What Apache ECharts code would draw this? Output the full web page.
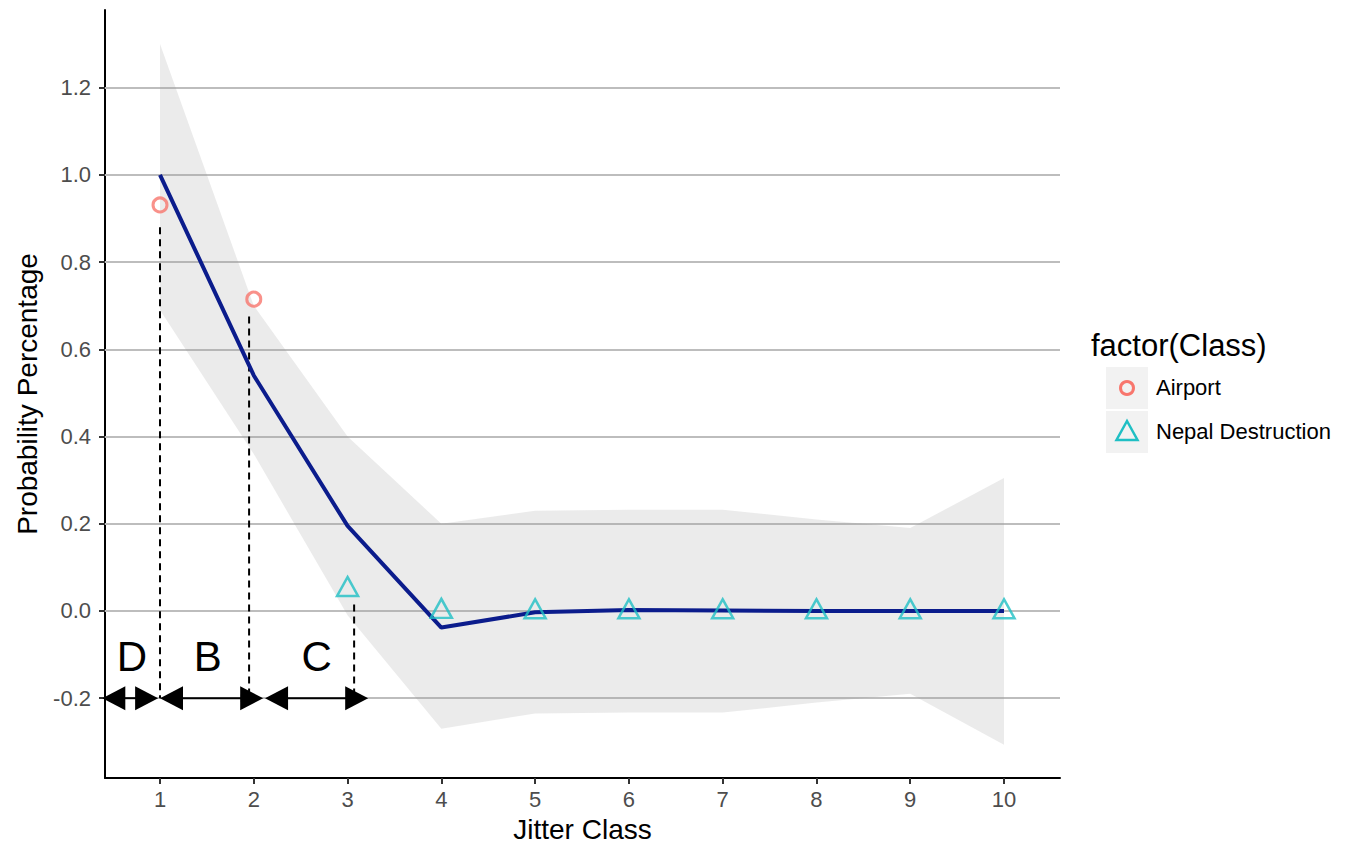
<!DOCTYPE html>
<html><head><meta charset="utf-8">
<script src="https://cdn.jsdelivr.net/npm/echarts@6/dist/echarts.min.js"></script>
<style>html,body{margin:0;padding:0;background:#fff}#c{width:1353px;height:851px}</style>
</head><body><div id="c"></div>
<script>
// ---- data ----
const classes = [1, 2, 3, 4, 5, 6, 7, 8, 9, 10];
const fitValues = [1.0, 0.54, 0.195, -0.038, -0.003, 0.002, 0.001, 0.0, 0.0, 0.0];
const bandUpper = [1.30, 0.70, 0.40, 0.20, 0.23, 0.232, 0.232, 0.21, 0.19, 0.305];
const bandLower = [0.69, 0.36, -0.01, -0.27, -0.235, -0.233, -0.233, -0.21, -0.19, -0.307];
const airportX = [1, 2];
const airportY = [0.931, 0.715];
const nepalX = [3, 4, 5, 6, 7, 8, 9, 10];
const nepalY = [0.056, 0.006, 0.005, 0.005, 0.005, 0.005, 0.005, 0.005];
const yTicks = [-0.2, 0, 0.2, 0.4, 0.6, 0.8, 1.0, 1.2];
const xTicks = [1, 2, 3, 4, 5, 6, 7, 8, 9, 10];
const guideX = [1, 1.95, 3.07];
const guideTop = [0.88, 0.675, 0.015];
const guideBottom = [-0.2, -0.2, -0.2];
const segLabels = ['D', 'B', 'C'];
const segStart = [0.385, 1.0, 2.12];
const segEnd = [0.98, 2.10, 3.22];
const segY = [-0.2, -0.2, -0.2];
const segLabelX = [0.70, 1.51, 2.67];
const segLabelY = [-0.105, -0.105, -0.105];
const legendTitle = 'factor(Class)';
const seriesNames = ['Airport', 'Nepal Destruction'];
const xName = 'Jitter Class';
const yName = 'Probability Percentage';

const AIR = '#F8766D', NEP = '#1FBFC4', FIT = '#0B1C8C';

const chart = echarts.init(document.getElementById('c'), null, {renderer: 'svg'});
const fmt = v => Number(v).toFixed(1);

chart.setOption({
  animation: false,
  backgroundColor: '#ffffff',
  grid: {left: 105, right: 293, top: 10, bottom: 73, containLabel: false},
  xAxis: {
    type: 'value', min: 0.4135, max: 10.597,
    name: xName, nameLocation: 'middle', nameGap: 37,
    nameTextStyle: {fontSize: 28, color: '#000', fontFamily: 'Liberation Sans'},
    axisLine: {show: true, onZero: false, lineStyle: {color: '#000', width: 2}},
    axisTick: {show: true, length: 6, lineStyle: {color: '#333', width: 2}, customValues: xTicks},
    axisLabel: {show: true, customValues: xTicks, fontSize: 22, color: '#4d4d4d', margin: 10, fontFamily: 'Liberation Sans'},
    splitLine: {show: false}
  },
  yAxis: {
    type: 'value', min: -0.383, max: 1.378,
    name: yName, nameLocation: 'middle', nameGap: 64, nameRotate: 90,
    nameTextStyle: {fontSize: 28, color: '#000', fontFamily: 'Liberation Sans'},
    axisLine: {show: true, onZero: false, lineStyle: {color: '#000', width: 2}},
    axisTick: {show: true, length: 6, lineStyle: {color: '#333', width: 2}, customValues: yTicks},
    axisLabel: {show: true, customValues: yTicks, formatter: fmt, fontSize: 22, color: '#4d4d4d', margin: 14, fontFamily: 'Liberation Sans'},
    splitLine: {show: false}
  },
  graphic: [
    {type: 'text', left: 1091, top: 330, style: {text: legendTitle, fontSize: 31, fill: '#000', fontFamily: 'Liberation Sans'}},
    {type: 'rect', shape: {x: 1106, y: 367, width: 42, height: 42}, style: {fill: '#f2f2f2'}},
    {type: 'rect', shape: {x: 1106, y: 411, width: 42, height: 42}, style: {fill: '#f2f2f2'}},
    {type: 'circle', shape: {cx: 1127, cy: 388, r: 6.5}, style: {fill: 'none', stroke: AIR, lineWidth: 3}},
    {type: 'polygon', shape: {points: [[1127, 421], [1137.5, 440], [1116.5, 440]]}, style: {fill: 'none', stroke: NEP, lineWidth: 2.5}},
    {type: 'text', left: 1156, top: 376, style: {text: seriesNames[0], fontSize: 22, fill: '#000', fontFamily: 'Liberation Sans'}},
    {type: 'text', left: 1156, top: 420, style: {text: seriesNames[1], fontSize: 22, fill: '#000', fontFamily: 'Liberation Sans'}}
  ],
  series: [
    { // gridlines
      type: 'line', data: [], silent: true, z: 1,
      markLine: {silent: true, symbol: 'none', label: {show: false}, animation: false, z: 1,
        lineStyle: {color: '#bdbdbd', width: 2, type: 'solid'},
        data: yTicks.map(v => ({yAxis: v}))}
    },
    { // confidence ribbon
      type: 'custom', z: 2, silent: true, clip: true,
      data: classes.map((c, i) => [c, bandLower[i], bandUpper[i]]),
      encode: {x: 0, y: [1, 2]},
      renderItem: (params, api) => {
        if (params.dataIndex !== 0) return null;
        const pts = [];
        for (let i = 0; i < classes.length; i++) pts.push(api.coord([classes[i], bandUpper[i]]));
        for (let i = classes.length - 1; i >= 0; i--) pts.push(api.coord([classes[i], bandLower[i]]));
        return {type: 'polygon', shape: {points: pts}, style: {fill: 'rgba(153,153,153,0.2)'}};
      }
    },
    { // dashed guides
      type: 'custom', z: 3, silent: true, clip: false,
      data: guideX.map((x, i) => [x, guideTop[i], guideBottom[i]]),
      encode: {x: 0, y: [1, 2]},
      renderItem: (params, api) => {
        const a = api.coord([api.value(0), api.value(1)]);
        const b = api.coord([api.value(0), api.value(2)]);
        return {type: 'line', shape: {x1: a[0], y1: a[1], x2: b[0], y2: b[1]},
          style: {stroke: '#000', lineWidth: 2, lineDash: [7, 5]}};
      }
    },
    { // double arrows
      type: 'custom', z: 4, silent: true, clip: false,
      data: segStart.map((s, i) => [s, segEnd[i], segY[i]]),
      encode: {x: [0, 1], y: 2},
      renderItem: (params, api) => {
        const a = api.coord([api.value(0), api.value(2)]);
        const b = api.coord([api.value(1), api.value(2)]);
        const L = 23, H = 12;
        return {type: 'group', children: [
          {type: 'line', shape: {x1: a[0] + L - 2, y1: a[1], x2: b[0] - L + 2, y2: b[1]}, style: {stroke: '#000', lineWidth: 2}},
          {type: 'polygon', shape: {points: [[a[0], a[1]], [a[0] + L, a[1] - H], [a[0] + L, a[1] + H]]}, style: {fill: '#000'}},
          {type: 'polygon', shape: {points: [[b[0], b[1]], [b[0] - L, b[1] - H], [b[0] - L, b[1] + H]]}, style: {fill: '#000'}}
        ]};
      }
    },
    { // segment letters
      type: 'custom', z: 4, silent: true, clip: false,
      data: segLabelX.map((x, i) => [x, segLabelY[i]]),
      encode: {x: 0, y: 1},
      renderItem: (params, api) => {
        const p = api.coord([api.value(0), api.value(1)]);
        return {type: 'text', x: p[0], y: p[1],
          style: {text: segLabels[params.dataIndex], fontSize: 42, fill: '#000', fontFamily: 'Liberation Sans',
            align: 'center', verticalAlign: 'middle'}};
      }
    },
    { // fitted line
      type: 'line', z: 5, silent: true, showSymbol: false, symbol: 'none',
      data: classes.map((c, i) => [c, fitValues[i]]),
      lineStyle: {color: FIT, width: 4}
    },
    {
      name: seriesNames[0], type: 'scatter', z: 6, silent: true,
      data: airportX.map((x, i) => [x, airportY[i]]),
      symbol: 'circle', symbolSize: 14,
      itemStyle: {color: 'rgba(0,0,0,0)', borderColor: AIR, borderWidth: 3}
    },
    {
      name: seriesNames[1], type: 'scatter', z: 6, silent: true,
      data: nepalX.map((x, i) => [x, nepalY[i]]),
      symbol: 'triangle', symbolSize: [21, 19],
      itemStyle: {color: 'rgba(0,0,0,0)', borderColor: NEP, borderWidth: 2.5}
    }
  ]
});
</script>
</body></html>
